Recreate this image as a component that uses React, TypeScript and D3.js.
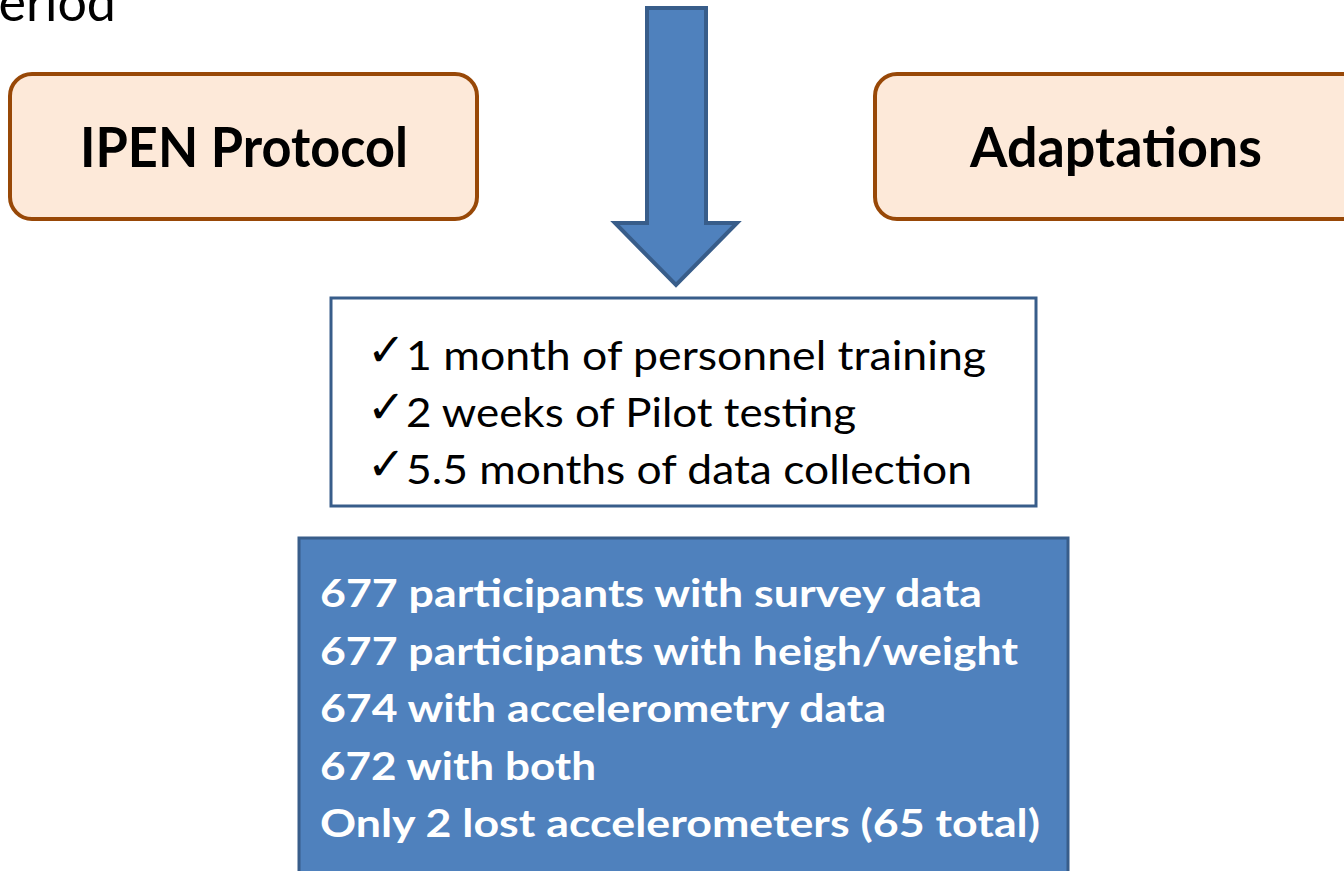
import React from "react";
import * as d3 from "d3";

// texts
const headerText = "Period";
const topBoxes = ["IPEN Protocol", "Adaptations"];
const stepLines = [
  "1 month of personnel training",
  "2 weeks of Pilot testing",
  "5.5 months of data collection",
];
const resultLines = [
  "677 participants with survey data",
  "677 participants with heigh/weight",
  "674 with accelerometry data",
  "672 with both",
  "Only 2 lost accelerometers (65 total)",
];

// measured text widths (px) so the substitute font lines up with the original
const topWidths = [328, 292];
const stepWidths = [580, 450, 566];
const resultWidths = [662, 698, 566, 276, 720];

const W = 1344;
const H = 871;
const FONT = "Lato, 'Open Sans', sans-serif";
const BLUE = "#4f81bd";
const BLUE_DARK = "#385d8a";
const PEACH = "#fde9d9";
const BROWN = "#984807";

export default function App() {
  // left edge and text centre of the two top boxes (right box runs off the slide)
  const boxX = d3.scaleOrdinal<string, number>().domain(topBoxes).range([10, 875]);
  const boxW = d3.scaleOrdinal<string, number>().domain(topBoxes).range([467, 500]);
  const textCx = d3.scaleOrdinal<string, number>().domain(topBoxes).range([244, 1116]);

  const stepY = d3.scalePoint<string>().domain(stepLines).range([370, 484]);
  const resultY = d3.scalePoint<string>().domain(resultLines).range([607, 837]);

  // block arrow outline
  const arrowPts: [number, number][] = [
    [647, 8],
    [706, 8],
    [706, 223],
    [737, 223],
    [676, 285],
    [615, 223],
    [647, 223],
  ];
  const arrow = d3.line()(arrowPts) + "Z";

  return (
    <svg
      width={W}
      height={H}
      style={{ position: "absolute", left: 0, top: 0, background: "#fff" }}
    >
      <text
        x={116}
        y={21}
        textAnchor="end"
        fontFamily={FONT}
        fontSize={52}
        fill="#000"
      >
        {headerText}
      </text>

      {topBoxes.map((t, i) => (
        <g key={t}>
          <rect
            x={boxX(t)}
            y={74}
            width={boxW(t)}
            height={145}
            rx={22}
            fill={PEACH}
            stroke={BROWN}
            strokeWidth={4}
          />
          <text
            x={textCx(t) - topWidths[i] / 2}
            y={167}
            fontFamily={FONT}
            fontWeight={700}
            fontSize={55}
            textLength={topWidths[i]}
            lengthAdjust="spacingAndGlyphs"
            fill="#000"
          >
            {t}
          </text>
        </g>
      ))}

      <path d={arrow} fill={BLUE} stroke={BLUE_DARK} strokeWidth={4} strokeLinejoin="miter" />

      <rect x={331} y={298} width={705} height={208} fill="#fff" stroke={BLUE_DARK} strokeWidth={3} />
      {stepLines.map((t, i) => (
        <g key={t}>
          <text
            x={367}
            y={stepY(t) - 4}
            fontFamily="'DejaVu Sans', sans-serif"
            fontSize={46}
            fill="#000"
          >
            ✓
          </text>
          <text
            x={406}
            y={stepY(t)}
            fontFamily={FONT}
            fontSize={40}
            textLength={stepWidths[i]}
            lengthAdjust="spacingAndGlyphs"
            fill="#000"
          >
            {t}
          </text>
        </g>
      ))}

      <rect x={299} y={538} width={769} height={360} fill={BLUE} stroke={BLUE_DARK} strokeWidth={3} />
      {resultLines.map((t, i) => (
        <text
          key={t}
          x={320}
          y={resultY(t)}
          fontFamily={FONT}
          fontWeight={700}
          fontSize={39}
          textLength={resultWidths[i]}
          lengthAdjust="spacingAndGlyphs"
          fill="#fff"
        >
          {t}
        </text>
      ))}
    </svg>
  );
}
